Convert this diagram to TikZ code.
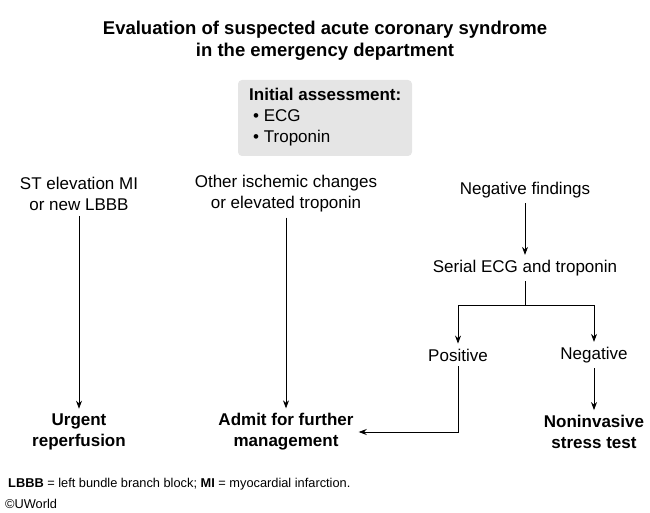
\documentclass[tikz,border=0pt]{standalone}
\usepackage{fontspec}
\setmainfont{Liberation Sans}
\usetikzlibrary{arrows.meta}

\tikzset{
  txt/.style={align=center,font=\fontsize{17}{21}\selectfont,inner sep=1pt},
  res/.style={txt,font=\fontsize{17}{21}\selectfont\bfseries},
  arr/.style={-{Stealth[length=8pt,width=6pt]},line width=0.8pt},
  ln/.style={line width=0.8pt}
}

\begin{document}
\begin{tikzpicture}[x=1pt,y=-1pt]
		\useasboundingbox (0,0) rectangle (650,513);
		%
		\node[res,font=\fontsize{18.5}{22}\selectfont\bfseries] (title) at (325,41) {Evaluation of suspected acute coronary syndrome\\in the emergency department};
		\fill[black!10,rounded corners=4pt] (238,80) rectangle (412,156);
		\node[txt,align=left,anchor=north west] (init) at (248,87) {\textbf{Initial assessment:}\\\hspace{4pt}• ECG\\\hspace{4pt}• Troponin};
		%
		\node[txt] (ste) at (79,194) {ST elevation MI\\or new LBBB};
		\node[txt] (isc) at (286,194) {Other ischemic changes\\or elevated troponin};
		\node[txt] (neg) at (525,190) {Negative findings};
		\node[txt] (ser) at (525,268) {Serial ECG and troponin};
		\node[txt] (pos) at (458,355) {Positive};
		\node[txt] (ng) at (594,355) {Negative};
		\node[res] (urg) at (79,432) {Urgent\\reperfusion};
		\node[res] (adm) at (286,432) {Admit for further\\management};
		\node[res] (non) at (594,432) {Noninvasive\\stress test};
		\coordinate (split) at (525,305);
		%
		\draw[arr] ([yshift=-4pt]ste.south) -- ([yshift=4pt]urg.north);
		\draw[arr] ([yshift=-4pt]isc.south) -- ([yshift=4pt]adm.north);
		\draw[arr] ([yshift=-4pt]neg.south) -- ([yshift=4pt]ser.north);
		\draw[ln] ([yshift=-4pt]ser.south) -- (split);
		\draw[arr] (split) -| ([yshift=4pt]pos.north);
		\draw[arr] (split) -| ([yshift=4pt]ng.north);
		\draw[arr] ([yshift=-4pt]ng.south) -- ([yshift=4pt]non.north);
		\draw[arr] ([yshift=-4pt]pos.south) |- ([xshift=4pt]adm.east);
		%
		\node[anchor=west,font=\fontsize{12.8}{15}\selectfont,inner sep=0pt] (note) at (8,484) {\textbf{LBBB} = left bundle branch block; \textbf{MI} = myocardial infarction.};
		\node[anchor=west,font=\fontsize{12.8}{15}\selectfont,inner sep=0pt] (copy) at (5,504) {©UWorld};
\end{tikzpicture}
\end{document}
